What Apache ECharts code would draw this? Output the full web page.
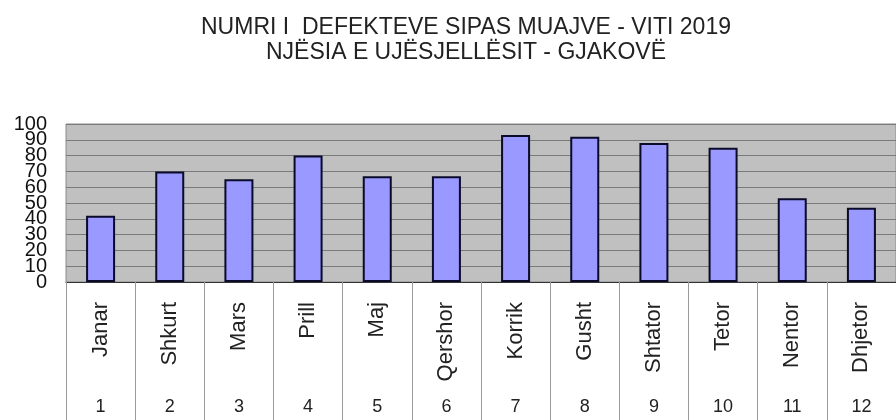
<!DOCTYPE html>
<html>
<head>
<meta charset="utf-8">
<script src="https://cdn.jsdelivr.net/npm/echarts@6/dist/echarts.min.js"></script>
<style>
    html, body { margin: 0; padding: 0; background: #fff; }
    #main { width: 896px; height: 420px; }
</style>
</head>
<body>
<div id="main"></div>
<script>
// muajt e vitit
const months = ['Janar', 'Shkurt', 'Mars', 'Prill', 'Maj', 'Qershor', 'Korrik', 'Gusht', 'Shtator', 'Tetor', 'Nentor', 'Dhjetor'];
const monthNumbers = ['1', '2', '3', '4', '5', '6', '7', '8', '9', '10', '11', '12'];
// numri i defekteve
const defects = [42, 70, 65, 80, 67, 67, 93, 92, 88, 85, 53, 47];
const yTicks = [0, 10, 20, 30, 40, 50, 60, 70, 80, 90, 100];

const chart = echarts.init(document.getElementById('main'));
const font = 'Liberation Sans, Arial, sans-serif';

// labels 10 and 90 touch the end labels, so they go on a second (overlaid) axis
const innerTicks = [yTicks[1], yTicks[yTicks.length - 2]];

const yLabel = (filter) => ({
    margin: 19,
    showMinLabel: true,
    showMaxLabel: true,
    fontFamily: font,
    fontSize: 20,
    color: '#111',
    formatter: (v) => filter(v) ? String(v) : ''
});

const option = {
    animation: false,
    title: {
        text: 'NUMRI I  DEFEKTEVE SIPAS MUAJVE - VITI 2019\nNJËSIA E UJËSJELLËSIT - GJAKOVË',
        left: 461,
        top: 10,
        textAlign: 'center',
        textStyle: {
            fontFamily: font,
            fontSize: 23,
            fontWeight: 'normal',
            color: '#222',
            lineHeight: 25
        }
    },
    grid: {
        left: 66,
        top: 124,
        width: 840,
        bottom: 138,
        show: true,
        backgroundColor: '#c0c0c0',
        borderColor: '#8a8a8a',
        borderWidth: 1
    },
    xAxis: [
        {
            type: 'category',
            data: months,
            axisLine: { lineStyle: { color: '#333', width: 1 } },
            axisTick: {
                show: true,
                interval: 0,
                length: 140,
                lineStyle: { color: '#9a9a9a', width: 1 }
            },
            axisLabel: {
                interval: 0,
                rotate: 90,
                margin: 20,
                fontFamily: font,
                fontSize: 22,
                color: '#222'
            }
        },
        {
            type: 'category',
            data: monthNumbers,
            position: 'bottom',
            offset: 108,
            axisLine: { show: false },
            axisTick: { show: false },
            axisLabel: {
                interval: 0,
                margin: 8,
                fontFamily: font,
                fontSize: 18,
                color: '#222'
            }
        }
    ],
    yAxis: [
        {
            type: 'value',
            min: yTicks[0],
            max: yTicks[yTicks.length - 1],
            interval: 10,
            axisLine: { show: false },
            axisTick: { show: false },
            axisLabel: yLabel((v) => innerTicks.indexOf(v) < 0),
            splitLine: { lineStyle: { color: '#7a7a7a', width: 1 } }
        },
        {
            type: 'value',
            position: 'left',
            min: yTicks[0],
            max: yTicks[yTicks.length - 1],
            interval: 10,
            axisLine: { show: false },
            axisTick: { show: false },
            axisLabel: yLabel((v) => innerTicks.indexOf(v) >= 0),
            splitLine: { show: false }
        }
    ],
    series: [
        {
            type: 'bar',
            data: defects,
            xAxisIndex: 0,
            yAxisIndex: 0,
            barWidth: 29,
            itemStyle: {
                color: '#9999ff',
                borderColor: '#0a0a2a',
                borderWidth: 2
            }
        }
    ]
};

chart.setOption(option);
</script>
</body>
</html>
